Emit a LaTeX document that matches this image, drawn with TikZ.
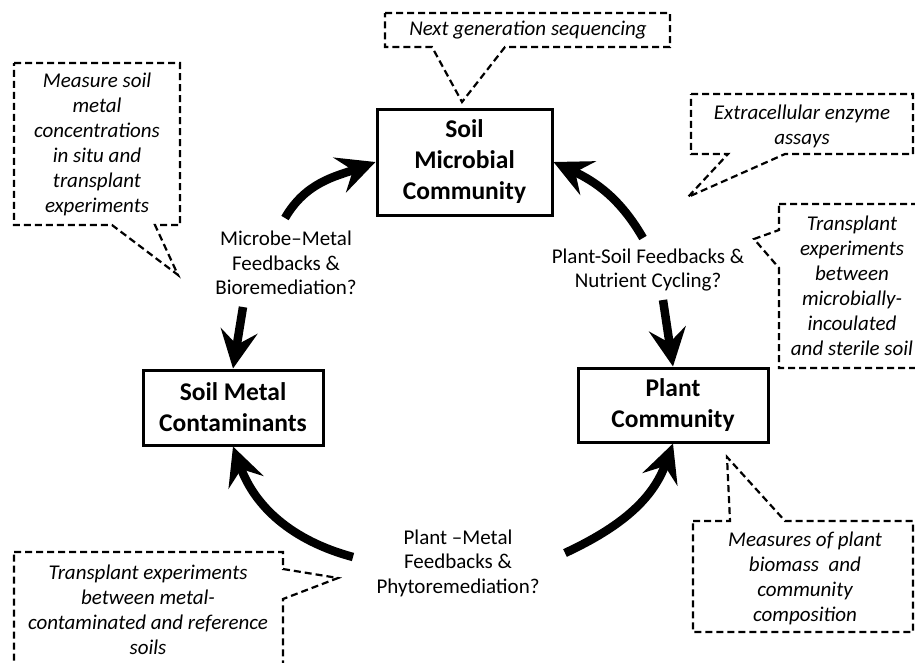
\documentclass[tikz,border=0pt]{standalone}
\usepackage{fontspec}
\setmainfont{Carlito}
\usetikzlibrary{arrows.meta}
\begin{document}
\begin{tikzpicture}[x=1pt,y=1pt,
  box/.style={draw,line width=3pt,align=center,inner sep=0pt,
    font=\fontsize{25.5}{31}\selectfont\bfseries},
  lbl/.style={align=center,inner sep=0pt,font=\fontsize{21}{24.5}\selectfont},
  note/.style={align=center,inner sep=0pt,font=\fontsize{21}{25}\selectfont\itshape},
  callout/.style={draw,line width=2.2pt,dash pattern=on 7pt off 4pt,line join=miter},
  arr/.style={line width=8.5pt,-{Stealth[length=38pt,width=37pt,inset=14pt]}}]
\useasboundingbox (0,0) rectangle (915,-662);
\clip (0,0) rectangle (915,-662);

% main boxes
\node[box,minimum width=175pt,minimum height=106pt] (smc) at (464.5,-162) {Soil\\Microbial\\Community};
\node[box,minimum width=180pt,minimum height=75pt] (met) at (233,-407.5) {Soil Metal\\Contaminants};
\node[box,minimum width=190pt,minimum height=74pt] (pc) at (673,-405) {Plant\\Community};

% relation labels
\node[lbl] (l1) at (286,-263) {Microbe–Metal\\Feedbacks \&\\Bioremediation?};
\node[lbl] (l2) at (648,-270) {Plant-Soil Feedbacks \&\\Nutrient Cycling?};
\node[lbl] (l3) at (458,-563) {Plant –Metal\\Feedbacks \&\\Phytoremediation?};

% arrow start points
\coordinate (s1) at (285,-218);
\coordinate (s2) at (243,-307);
\coordinate (s3) at (643,-238);
\coordinate (s4) at (663,-300);
\coordinate (s5) at (353,-557);
\coordinate (s6) at (565,-553);

\draw[arr] (s1) to[out=60,in=200] (smc.west);
\draw[arr] (s2) -- (met.north);
\draw[arr] (s3) to[out=120,in=-25] (smc.east);
\draw[arr] (s4) -- (pc.north);
\draw[arr] (s5) to[out=165,in=-70] (met.south);
\draw[arr] (s6) to[out=25,in=250] (pc.south);

% callouts
\draw[callout] (385,-13) -- (670,-13) -- (670,-47) -- (505,-47) -- (462,-102) -- (432,-47) -- (385,-47) -- cycle;
\node[note] (n1) at (528,-30) {Next generation sequencing};

\draw[callout] (14,-63) -- (180,-63) -- (180,-225) -- (155,-225) -- (178,-275) -- (112,-225) -- (14,-225) -- cycle;
\node[note] (n2) at (97,-144) {Measure soil\\metal\\concentrations\\in situ and\\transplant\\experiments};

\draw[callout] (691,-94) -- (913,-94) -- (913,-154) -- (785,-154) -- (688,-197) -- (728,-154) -- (691,-154) -- cycle;
\node[note] (n3) at (802,-126) {Extracellular enzyme\\assays};

\draw[callout] (779,-204) -- (925,-204) -- (925,-368) -- (779,-368) -- (779,-268) -- (754,-239) -- (779,-230) -- cycle;
\node[note] (n4) at (852,-286) {Transplant\\experiments\\between\\microbially-\\incoulated\\and sterile soil};

\draw[callout] (14,-552) -- (283,-552) -- (283,-569) -- (338,-578) -- (283,-599) -- (283,-680) -- (14,-680) -- cycle;
\node[note] (n5) at (148,-610) {Transplant experiments\\between metal-\\contaminated and reference\\soils};

\draw[callout] (693,-521) -- (730,-521) -- (727,-457) -- (785,-521) -- (913,-521) -- (913,-632) -- (693,-632) -- cycle;
\node[note] (n6) at (805,-578) {Measures of plant\\biomass\ \ and\\community\\composition};
\end{tikzpicture}
\end{document}
